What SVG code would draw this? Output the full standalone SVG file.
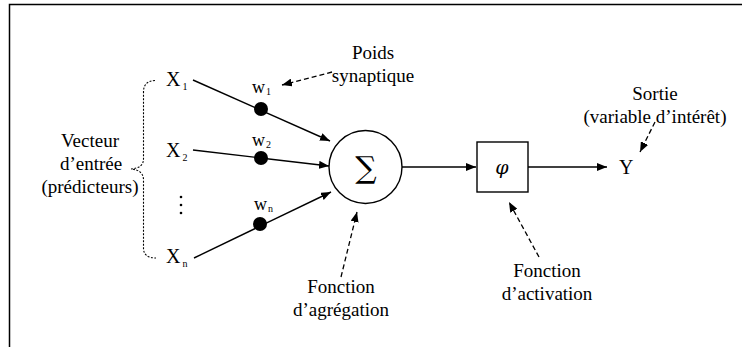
<svg xmlns="http://www.w3.org/2000/svg" width="742" height="347" viewBox="0 0 742 347">
<defs>
<style>
.t{font-family:'Liberation Serif','Times New Roman',Times,serif;fill:#000}
.lbl{font-size:19px;text-anchor:middle}
.var{font-size:20px}
.sub{font-size:10px}
.w{font-size:18px}
.edge{stroke:#000;stroke-width:1.4;fill:none}
.dash{stroke:#000;stroke-width:1.3;fill:none;stroke-dasharray:5,3}
.dot{stroke:#000;stroke-width:1.1;fill:none;stroke-dasharray:2,1.5}
</style>
<marker id="ah" viewBox="0 0 10 8" refX="10" refY="4" markerWidth="10" markerHeight="8" markerUnits="userSpaceOnUse" orient="auto">
<path d="M0,0 L10,4 L0,8 z" fill="#000"/>
</marker>
</defs>
<rect width="742" height="347" fill="#fff"/>
<path d="M9.5,347 V4.5 H742" stroke="#000" stroke-width="1.5" fill="none"/>

<g font-family="Liberation Serif, serif">
<g id="vecteur">
<text class="t lbl" x="90" y="147">Vecteur</text>
<text class="t lbl" x="91" y="170">d’entrée</text>
<text class="t lbl" x="90" y="193">(prédicteurs)</text>
<path class="dot" d="M155,80.5 Q143.5,81 143.5,92 V159 Q143.5,168 131,169 Q143.5,170 143.5,180 V248 Q143.5,258 156,258"/>
</g>

<g id="x1"><text class="t var" x="166" y="86">X<tspan class="sub" dx="2" dy="4">1</tspan></text></g>
<g id="x2"><text class="t var" x="166" y="157">X<tspan class="sub" dx="2" dy="4">2</tspan></text></g>
<g id="dots">
<circle cx="181" cy="197" r="1.3" fill="#000"/>
<circle cx="181" cy="205" r="1.3" fill="#000"/>
<circle cx="181" cy="213" r="1.3" fill="#000"/>
</g>
<g id="xn"><text class="t var" x="166" y="263">X<tspan class="sub" dx="2" dy="4">n</tspan></text></g>

<g id="connectors">
<line class="edge" x1="193" y1="80" x2="330" y2="141" marker-end="url(#ah)"/>
<line class="edge" x1="193" y1="150" x2="329" y2="166" marker-end="url(#ah)"/>
<line class="edge" x1="194" y1="258" x2="331" y2="192" marker-end="url(#ah)"/>
<line class="edge" x1="402" y1="167" x2="476" y2="167" marker-end="url(#ah)"/>
<line class="edge" x1="528" y1="167" x2="607" y2="167" marker-end="url(#ah)"/>
<line class="dash" x1="332" y1="72" x2="282" y2="85" marker-end="url(#ah)"/>
<line class="dash" x1="341" y1="277" x2="357" y2="212" marker-end="url(#ah)"/>
<line class="dash" x1="539" y1="257" x2="509" y2="202" marker-end="url(#ah)"/>
<line class="dash" x1="655" y1="122" x2="640" y2="152" marker-end="url(#ah)"/>
</g>

<g id="w1"><circle cx="261" cy="109" r="7" fill="#000"/><text class="t w" x="252" y="93">w<tspan class="sub" dx="1" dy="2">1</tspan></text></g>
<g id="w2"><circle cx="261" cy="158" r="7" fill="#000"/><text class="t w" x="252" y="146">w<tspan class="sub" dx="1" dy="2">2</tspan></text></g>
<g id="wn"><circle cx="260" cy="224" r="7" fill="#000"/><text class="t w" x="254" y="210">w<tspan class="sub" dx="1" dy="2">n</tspan></text></g>

<g id="poids">
<text class="t lbl" x="373" y="59">Poids</text>
<text class="t lbl" x="373" y="82">synaptique</text>
</g>

<g id="sigma">
<circle cx="365.5" cy="167" r="36.5" fill="#fff" stroke="#000" stroke-width="1.4"/>
<text x="366" y="178" font-size="30" text-anchor="middle" font-family="DejaVu Serif, serif">∑</text>
</g>

<g id="phi">
<rect x="477" y="142" width="51" height="50" fill="#fff" stroke="#000" stroke-width="1.4"/>
<text x="502" y="174" font-size="19" font-style="italic" text-anchor="middle" font-family="DejaVu Serif, serif">φ</text>
</g>

<g id="y"><text class="t var" x="619" y="174">Y</text></g>

<g id="sortie">
<text class="t lbl" x="655" y="100">Sortie</text>
<text class="t lbl" x="655" y="123">(variable d’intérêt)</text>
</g>

<g id="agregation">
<text class="t lbl" x="341" y="293">Fonction</text>
<text class="t lbl" x="341" y="316">d’agrégation</text>
</g>

<g id="activation">
<text class="t lbl" x="547" y="277">Fonction</text>
<text class="t lbl" x="547" y="300">d’activation</text>
</g>
</g>
</svg>
